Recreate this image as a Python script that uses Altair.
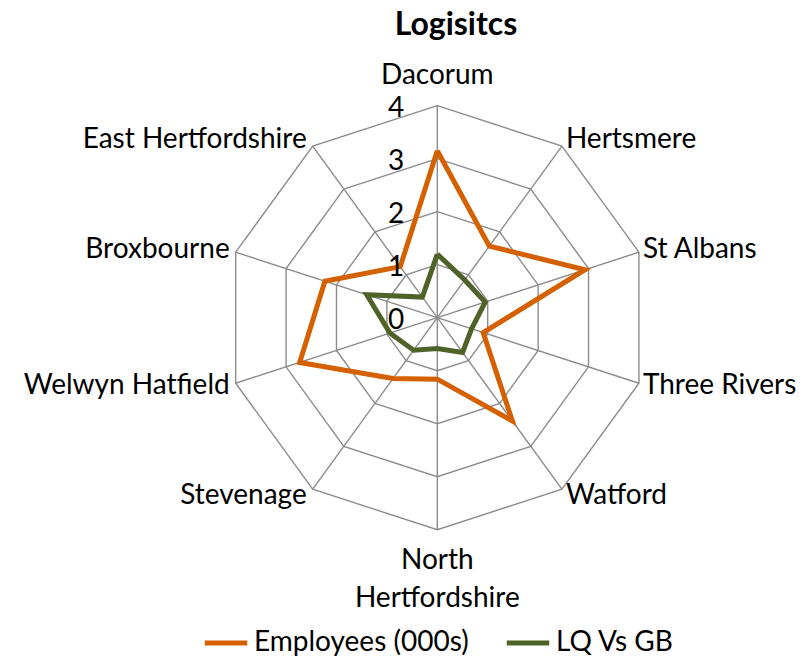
import altair as alt
import pandas as pd

# ---------------- data ----------------
categories = ["Dacorum", "Hertsmere", "St Albans", "Three Rivers", "Watford",
              "North Hertfordshire", "Stevenage", "Welwyn Hatfield", "Broxbourne",
              "East Hertfordshire"]
employees = [3.15, 1.67, 2.93, 0.91, 2.41, 1.16, 1.42, 2.73, 2.23, 1.19]
lq_vs_gb = [1.20, 0.88, 0.95, 0.68, 0.81, 0.58, 0.76, 0.94, 1.40, 0.48]
series_names = ["Employees (000s)", "LQ Vs GB"]
series_colors = ["#D46000", "#4F6228"]
levels = [0, 1, 2, 3, 4]
title_text = "Logisitcs"

# ---------------- layout ----------------
FONT = "Lato"
FS = 28
W, H = 795, 653
CX, CY = 429.3, 309.7   # centre of the radar inside plot area (px)
U = 53.0                # px per unit
xdom = [-CX / U, (W - CX) / U]
ydom = [-(H - CY) / U, CY / U]
RMAX = levels[-1]
n = len(categories)

rows = []
for s, vals in zip(series_names, [employees, lq_vs_gb]):
    for i in range(n + 1):
        rows.append({"series": s, "idx": i, "value": vals[i % n]})
series_df = pd.DataFrame(rows)
grid_df = pd.DataFrame([{"level": l, "idx": i} for l in levels[1:] for i in range(n + 1)])
spoke_df = pd.DataFrame({"idx": list(range(n))})
cat_df = pd.DataFrame({"idx": list(range(n)), "label": categories})
tick_df = pd.DataFrame({"level": levels})
title_df = pd.DataFrame({"title": [title_text]})

xs = alt.Scale(domain=xdom, nice=False, zero=False)
ys = alt.Scale(domain=ydom, nice=False, zero=False)
ang = f"(datum.idx * 2 * PI / {n})"


def X(f):
    return alt.X(f, type="quantitative", scale=xs, axis=None)


def Y(f):
    return alt.Y(f, type="quantitative", scale=ys, axis=None)


grid = alt.Chart(grid_df).transform_calculate(
    gx=f"datum.level * sin({ang})", gy=f"datum.level * cos({ang})"
).mark_line(color="#8C8C8C", strokeWidth=1.4).encode(
    x=X("gx"), y=Y("gy"), detail="level:N", order="idx:Q"
)

spokes = alt.Chart(spoke_df).transform_calculate(
    x0="0", y0="0", x1=f"{RMAX} * sin({ang})", y1=f"{RMAX} * cos({ang})"
).mark_rule(color="#8C8C8C", strokeWidth=1.4).encode(
    x=X("x0"), y=Y("y0"), x2="x1:Q", y2="y1:Q"
)

lines = alt.Chart(series_df).transform_calculate(
    sx=f"datum.value * sin({ang})", sy=f"datum.value * cos({ang})"
).mark_line(strokeWidth=5, strokeJoin="miter").encode(
    x=X("sx"), y=Y("sy"),
    color=alt.Color("series:N",
                    scale=alt.Scale(domain=series_names, range=series_colors),
                    legend=alt.Legend(title=None, orient="none", legendX=194, legendY=611,
                                      direction="horizontal", symbolType="stroke",
                                      symbolStrokeWidth=5, symbolSize=1800,
                                      labelFontSize=FS, labelFont=FONT, labelColor="black",
                                      columnPadding=27, labelOffset=4, labelLimit=400)),
    detail="series:N", order="idx:Q"
)

ticks = alt.Chart(tick_df).transform_calculate(
    tx="0", ty="datum.level"
).mark_text(align="right", baseline="middle", dx=-33, dy=3, fontSize=FS, font=FONT,
            color="black").encode(x=X("tx"), y=Y("ty"), text="level:Q")

lab = alt.Chart(cat_df).transform_calculate(
    s=f"sin({ang})", c=f"cos({ang})"
).transform_calculate(
    lx=f"{RMAX} * datum.s", ly=f"{RMAX} * datum.c + 0.15 * datum.c"
)
txt = dict(fontSize=FS, font=FONT, color="black")
lab_top = lab.transform_filter("abs(datum.s) < 0.1 && datum.c > 0").mark_text(
    align="center", baseline="alphabetic", dy=-14, **txt
).encode(x=X("lx"), y=Y(f"ly"), text="label:N")
lab_bottom = lab.transform_filter("abs(datum.s) < 0.1 && datum.c < 0").mark_text(
    align="center", baseline="alphabetic", dy=31, lineBreak=" ", lineHeight=38, **txt
).encode(x=X("lx"), y=Y("ly"), text="label:N")
lab_right = lab.transform_filter("datum.s > 0.1").mark_text(
    align="left", baseline="middle", dx=4, **txt
).encode(x=X("lx"), y=Y("ly"), text="label:N")
lab_left = lab.transform_filter("datum.s < -0.1").mark_text(
    align="right", baseline="middle", dx=-6, **txt
).encode(x=X("lx"), y=Y("ly"), text="label:N")

title = alt.Chart(title_df).mark_text(
    align="center", baseline="alphabetic", fontSize=32, fontWeight="bold", font=FONT,
    color="black"
).encode(x=alt.value(448), y=alt.value(27), text="title:N")

chart = alt.layer(grid, spokes, lines, ticks, lab_top, lab_bottom, lab_right, lab_left,
                  title).properties(
    width=W, height=H,
    autosize=alt.AutoSizeParams(type="none"),
    padding=0,
).configure_view(stroke=None)

chart.save("out.html", embed_options={"renderer": "svg", "actions": False})
